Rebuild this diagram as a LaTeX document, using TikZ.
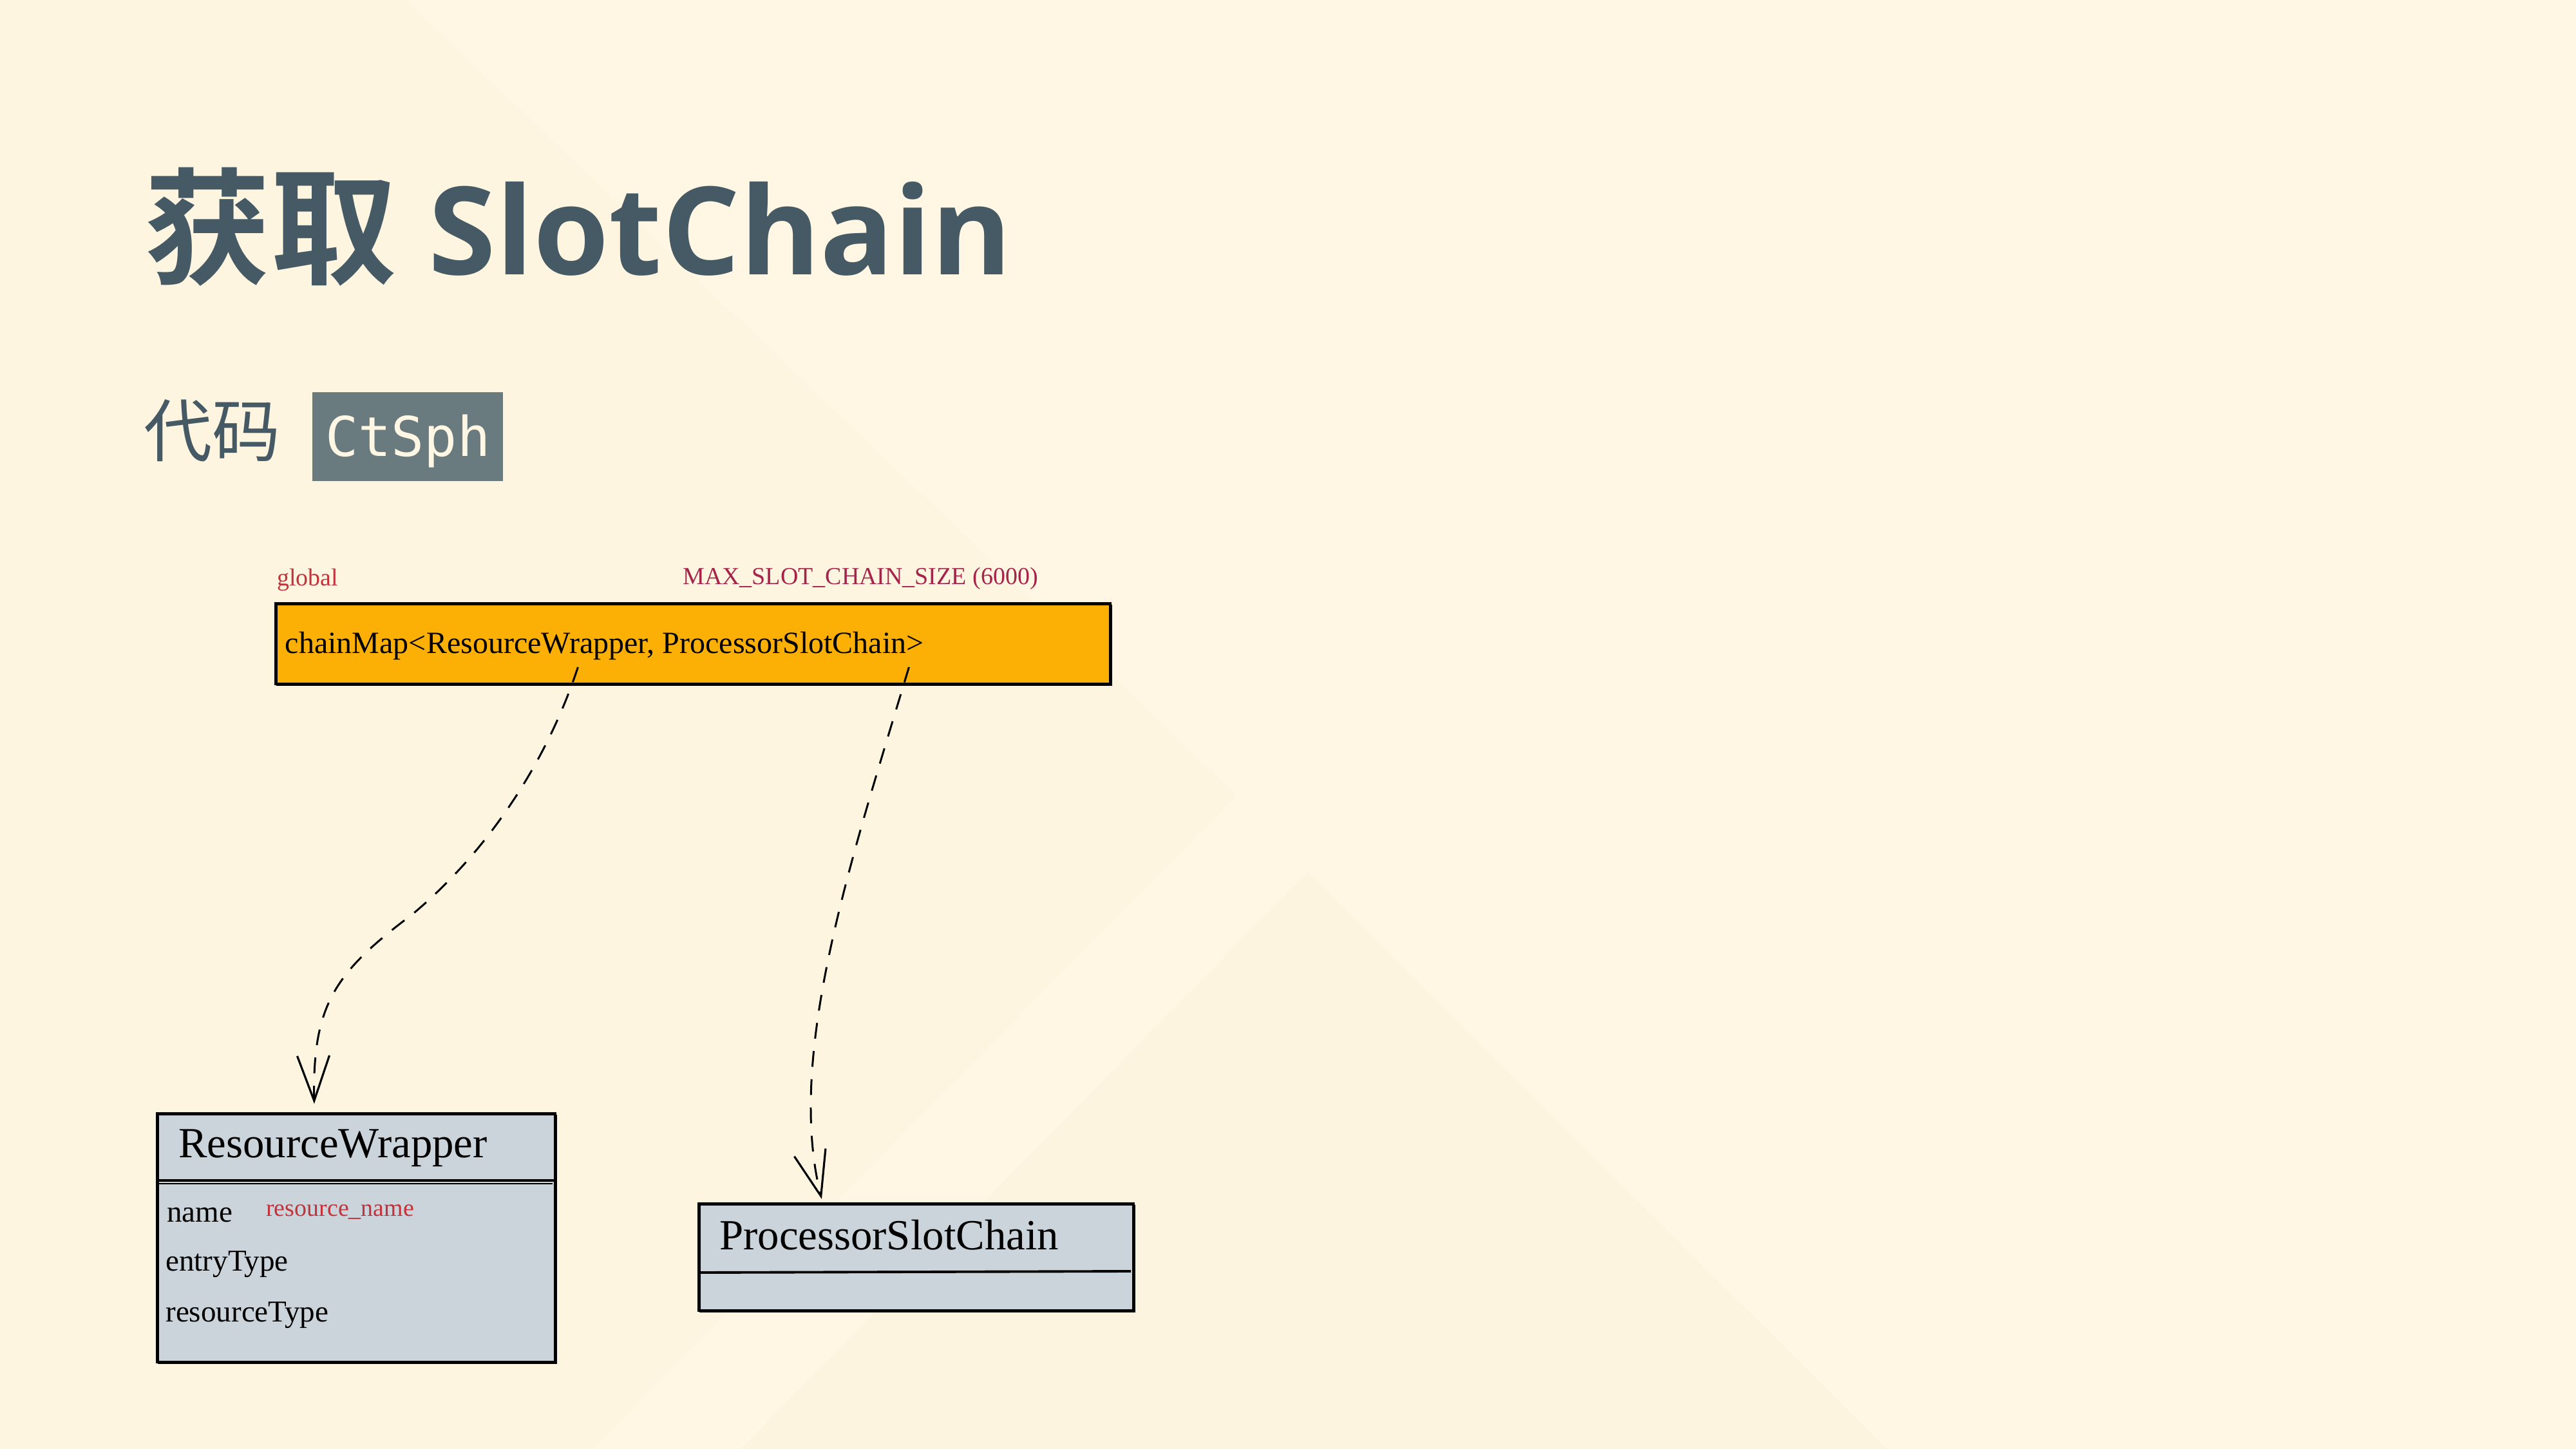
\documentclass[tikz,border=0pt]{standalone}
\usepackage{fontspec}
\setmainfont{Liberation Serif}
\newfontfamily\cjkfont{Noto Sans CJK SC}[BoldFont={Noto Sans CJK SC Bold}]
\newfontfamily\headfont{Open Sans}
\newfontfamily\codefont{DejaVu Sans Mono}
\usetikzlibrary{arrows.meta,positioning}
\tikzset{every picture/.style={line width=0.75pt}}

\definecolor{bgcream}{HTML}{FFF7E3}
\definecolor{bgshade}{HTML}{FEF5E1}
\definecolor{bgshadeb}{HTML}{FDF4DF}
\definecolor{slate}{HTML}{455A64}
\definecolor{tagbg}{HTML}{6A7B80}
\definecolor{mapfill}{HTML}{FCB005}
\definecolor{umlgrey}{HTML}{CBD3DB}
\definecolor{notered}{HTML}{C2333B}
\definecolor{sizered}{HTML}{A5244A}

\begin{document}
\begin{tikzpicture}[
    sketchbox/.style={draw=black, line width=1.1pt, inner sep=0pt,
      postaction={draw, line width=0.5pt, transform canvas={shift={(0.02,-0.025)}}}},
    umlbox/.style={sketchbox, fill=umlgrey},
    member/.style={anchor=base west, inner sep=0pt, font=\fontsize{13.4pt}{16pt}\selectfont},
    umltitle/.style={anchor=base west, inner sep=0pt, font=\fontsize{19pt}{22pt}\selectfont},
    note/.style={anchor=base west, inner sep=0pt, font=\fontsize{10.8pt}{13pt}\selectfont},
    link/.style={line width=0.85pt, dash pattern=on 7pt off 5.5pt,
      -{Straight Barb[length=0.7cm,width=0.5cm,line width=0.9pt]}}]

    % page background with its faint triangles
    \fill[bgcream] (0,0) rectangle (40,-22.5);
    \useasboundingbox (0,0) rectangle (40,-22.5);
    \fill[bgshade] (6.3,0) -- (19.2,-12.35) -- (9.2,-22.5) -- (0,-22.5) -- (0,0) -- cycle;
    \fill[bgshadeb] (20.3,-13.55) -- (29.3,-22.5) -- (11.5,-22.5) -- cycle;

    % heading
    \node[anchor=base west, inner sep=0pt, text=slate, font=\bfseries] (title) at (2.23,-4.27)
      {{\fontsize{55.7pt}{60pt}\selectfont\cjkfont 获取}\hspace{0.5cm}{\fontsize{54pt}{60pt}\selectfont\headfont SlotChain}};

    % sub heading with the class tag
    \node[anchor=base west, inner sep=0pt, text=slate,
      font=\fontsize{30.2pt}{34pt}\selectfont\cjkfont] (sub) at (2.22,-7.09) {代码};
    \node[anchor=base west, fill=tagbg, text=bgcream, inner xsep=0.2cm, inner ysep=0pt,
      text height=1.0cm, text depth=0.38cm,
      font=\fontsize{24.2pt}{28pt}\selectfont\codefont] (tag) at (4.84,-7.09) {CtSph};

    % the global map
    \node[sketchbox, fill=mapfill, anchor=base west, inner xsep=0.15cm,
      text height=0.78cm, text depth=0.47cm,
      font=\fontsize{13.66pt}{16pt}\selectfont] (cm) at (4.26,-10.15)
      {\makebox[12.66cm][l]{chainMap<ResourceWrapper, ProcessorSlotChain>}};
    \node[note, text=notered] (scope) at (4.29,-9.10) {global};
    \node[note, text=sizered] (size) at (10.59,-9.08) {MAX\_SLOT\_CHAIN\_SIZE (6000)};

    % key class
    \node[umlbox, anchor=north west, minimum width=6.18cm, minimum height=3.86cm] (rw) at (2.42,-17.27) {};
    \draw[line width=1.1pt] (2.44,-18.33) -- (8.60,-18.33);
    \draw[line width=0.5pt] (2.46,-18.38) -- (8.58,-18.38);
    \node[umltitle] (rwname) at (2.76,-17.98) {ResourceWrapper};
    \node[member] (fname) at (2.58,-18.97) {name};
    \node[note, text=notered] (fnote) at (4.12,-18.88) {resource\_name};
    \node[member] (fentry) at (2.56,-19.73) {entryType};
    \node[member] (ftype) at (2.56,-20.52) {resourceType};

    % value class
    \node[umlbox, anchor=north west, minimum width=6.75cm, minimum height=1.66cm] (psc) at (10.83,-18.67) {};
    \draw[line width=1.1pt] (10.88,-19.76) -- (17.56,-19.74);
    \node[umltitle] (pscname) at (11.16,-19.40) {ProcessorSlotChain};

    % key and value links
    \draw[link] ([xshift=-1.785cm,yshift=0.28cm]cm.south)
      .. controls (8.5,-11.8) and (7.6,-13.2) .. (6.4,-14.2)
      .. controls (5.2,-15.1) and (4.85,-15.6) .. ([xshift=-0.65cm,yshift=0.13cm]rw.north);
    \draw[link] ([xshift=3.355cm,yshift=0.28cm]cm.south)
      .. controls (13.2,-13.4) and (12.2,-16.4) .. ([xshift=-1.465cm,yshift=0.05cm]psc.north);
\end{tikzpicture}
\end{document}
